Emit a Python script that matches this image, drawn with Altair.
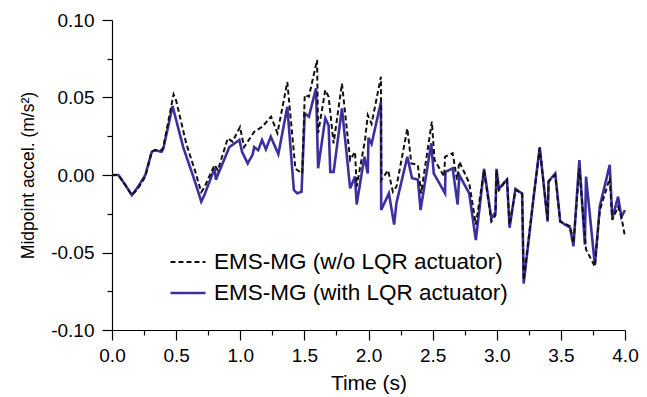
import altair as alt
import pandas as pd

# Time (s) and midpoint acceleration (m/s^2) for the uncontrolled case (w/o LQR)
t_wo = [0, 0.05, 0.10, 0.155, 0.20, 0.26, 0.31, 0.335, 0.387, 0.40, 0.44, 0.48, 0.50,
        0.58, 0.65, 0.696, 0.72, 0.80, 0.825, 0.903, 0.94, 0.998, 1.03, 1.11, 1.17,
        1.24, 1.29, 1.367, 1.43, 1.483, 1.503, 1.535, 1.599, 1.607, 1.663, 1.689,
        1.728, 1.793, 1.857, 1.895, 1.908, 1.973, 1.994, 2.024, 2.097, 2.10, 2.153,
        2.19, 2.218, 2.303, 2.334, 2.385, 2.41, 2.494, 2.515, 2.59, 2.597, 2.656,
        2.69, 2.708, 2.785, 2.837, 2.901, 2.958, 2.99, 2.998, 3.017, 3.056, 3.08,
        3.10, 3.146, 3.198, 3.21, 3.288, 3.335, 3.397, 3.404, 3.456, 3.495, 3.572,
        3.598, 3.644, 3.696, 3.765, 3.804, 3.881, 3.901, 3.946, 3.972, 4.0]
a_wo = [0, 0, -0.006, -0.013, -0.009, -0.001, 0.015, 0.016, 0.016, 0.018, 0.035, 0.052, 0.048,
        0.020, 0.002, -0.011, -0.008, 0.0065, 0.003, 0.0237, 0.0215, 0.031, 0.018, 0.028, 0.031,
        0.0376, 0.027, 0.060, 0.004, 0.001, 0.0516, 0.0505, 0.0742, 0.027, 0.0548, 0.0505,
        0.0204, 0.059, 0.0097, 0.015, -0.0075, 0.0226, 0.0387, 0.033, 0.0634, -0.0032, 0.003,
        -0.0108, -0.0075, 0.030, 0.0075, 0.0065, -0.0118, 0.0344, 0.0097, -0.001, 0.0118, 0.014,
        -0.003, 0.0086, -0.005, -0.032, 0.003, -0.030, -0.026, 0.003, -0.0097, -0.0054, -0.003,
        -0.032, -0.0097, -0.0118, -0.0677, -0.014, 0.0172, -0.029, -0.0043, 0.0, -0.030, -0.033,
        -0.044, 0.0043, -0.048, -0.059, -0.0226, -0.002, -0.029, -0.0204, -0.027, -0.040]

# Controlled case (with LQR actuator)
t_with = [0, 0.05, 0.10, 0.155, 0.20, 0.26, 0.31, 0.335, 0.387, 0.40, 0.44, 0.472, 0.555,
          0.65, 0.696, 0.72, 0.80, 0.81, 0.915, 0.993, 1.014, 1.058, 1.096, 1.109, 1.14,
          1.17, 1.2, 1.238, 1.297, 1.367, 1.418, 1.444, 1.478, 1.503, 1.535, 1.591, 1.607,
          1.663, 1.689, 1.702, 1.728, 1.793, 1.857, 1.895, 1.908, 1.968, 1.994, 2.0, 2.024,
          2.097, 2.099, 2.159, 2.2, 2.218, 2.303, 2.339, 2.385, 2.406, 2.489, 2.509, 2.597,
          2.60, 2.656, 2.695, 2.708, 2.785, 2.837, 2.901, 2.958, 2.99, 2.998, 3.017, 3.056,
          3.08, 3.10, 3.146, 3.198, 3.21, 3.288, 3.335, 3.397, 3.404, 3.456, 3.495, 3.572,
          3.598, 3.644, 3.687, 3.696, 3.765, 3.804, 3.881, 3.901, 3.946, 3.972, 4.0]
a_with = [0, 0, -0.006, -0.013, -0.008, 0.0, 0.015, 0.016, 0.015, 0.017, 0.032, 0.0445, 0.018,
          -0.005, -0.0172, -0.013, 0.0043, -0.003, 0.018, 0.0226, 0.015, 0.0075, 0.013, 0.018, 0.016,
          0.0226, 0.0166, 0.0247, 0.0135, 0.044, -0.0097, -0.0118, -0.0108, 0.0398, 0.0376, 0.056, 0.0043,
          0.0366, 0.032, 0.002, 0.002, 0.043, -0.0086, -0.001, -0.019, 0.0118, 0.001, 0.024, 0.020,
          0.047, -0.0226, -0.0118, -0.032, -0.018, 0.0118, -0.002, -0.003, -0.0226, 0.0204, 0.001, -0.0118,
          0.002, 0.0043, -0.019, 0.0, -0.0118, -0.042, 0.004, -0.028, -0.024, 0.004, -0.009, -0.005,
          -0.003, -0.034, -0.009, -0.012, -0.070, -0.014, 0.018, -0.030, -0.004, 0.001, -0.030, -0.034,
          -0.046, 0.0097, -0.045, -0.001, -0.058, -0.020, 0.0065, -0.028, -0.014, -0.027, -0.0226]

series_names = ["EMS-MG (w/o LQR actuator)", "EMS-MG (with LQR actuator)"]
x_ticks = [i * 0.25 for i in range(17)]
y_ticks = [round(-0.1 + i * 0.025, 3) for i in range(9)]

df = pd.concat([
    pd.DataFrame({"t": t_wo, "a": a_wo, "series": series_names[0]}),
    pd.DataFrame({"t": t_with, "a": a_with, "series": series_names[1]}),
])

FONT = "Liberation Sans"
FS = 19

x_enc = alt.X("t:Q", scale=alt.Scale(domain=[0, 4], nice=False, zero=False),
              axis=alt.Axis(values=x_ticks, title="Time (s)",
                            labelExpr="round(datum.value*4) % 2 == 0 ? format(datum.value, '.1f') : ''",
                            tickSize={"condition": {"test": "round(datum.value*4) % 2 == 0", "value": 10}, "value": 5},
                            grid=False, domainColor="black", tickColor="black", labelColor="black",
                            titleColor="black", labelFont=FONT, titleFont=FONT, labelFontSize=FS,
                            titleFontSize=21, titleFontWeight="normal", labelPadding=6, titlePadding=7,
                            labelFlush=False, labelOverlap=False, domainWidth=1.2, tickWidth=1.2))
y_enc = alt.Y("a:Q", scale=alt.Scale(domain=[-0.1, 0.1], nice=False, zero=False),
              axis=alt.Axis(values=y_ticks, title="Midpoint accel. (m/s²)",
                            labelExpr="round(datum.value*40) % 2 == 0 ? (datum.value < -0.0001 ? '-' : '') + format(abs(datum.value), '.2f') : ''",
                            tickSize={"condition": {"test": "round(datum.value*40) % 2 == 0", "value": 10}, "value": 5},
                            grid=False, domainColor="black", tickColor="black", labelColor="black",
                            titleColor="black", labelFont=FONT, titleFont=FONT, labelFontSize=FS,
                            titleFontSize=17.5, titleFontWeight="normal", labelPadding=8, titlePadding=13,
                            labelFlush=False, labelOverlap=False, domainWidth=1.2, tickWidth=1.2))

color = alt.Color("series:N", scale=alt.Scale(domain=series_names, range=["#111111", "#3b30a0"]),
                  legend=alt.Legend(title=None, orient="none", legendX=57, legendY=231,
                                    symbolType="stroke", symbolSize=1225, labelFont=FONT,
                                    labelFontSize=22.5, labelColor="black", labelOffset=7,
                                    labelLimit=0, clipHeight=22, rowPadding=8, padding=0))
dash = alt.StrokeDash("series:N", scale=alt.Scale(domain=series_names, range=[[5, 3], [1, 0]]), legend=None)
sw = alt.StrokeWidth("series:N", scale=alt.Scale(domain=series_names, range=[2.0, 2.6]), legend=None)

base = alt.Chart(df).mark_line(interpolate="linear").encode(
    x=x_enc, y=y_enc, color=color, strokeDash=dash, strokeWidth=sw, order="t:Q")

solid = base.transform_filter(alt.datum.series == series_names[1])
dashed = base.transform_filter(alt.datum.series == series_names[0])

chart = alt.layer(solid, dashed).properties(
    width=513, height=310,
    autosize=alt.AutoSizeParams(type="none"),
    padding={"left": 104, "top": 12, "right": 14, "bottom": 65},
    background="white",
).configure_view(stroke=None)

chart.save("out.html", embed_options={"renderer": "svg", "actions": False})
